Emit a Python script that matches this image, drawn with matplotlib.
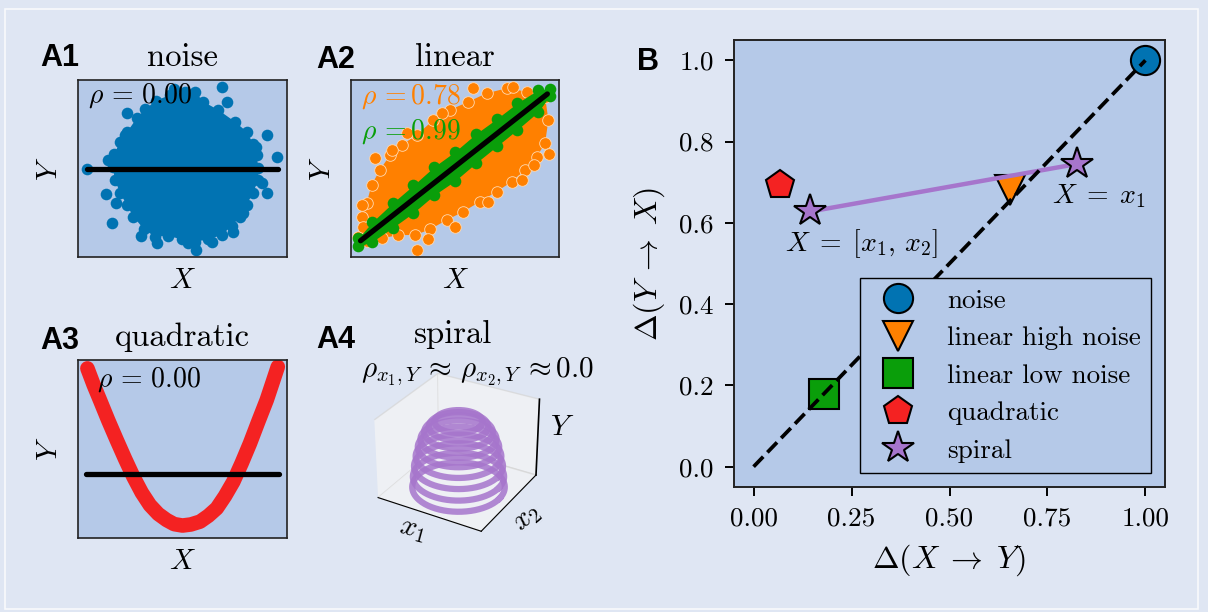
import numpy as np
import matplotlib.pyplot as plt
from matplotlib.patches import Rectangle

# ---- colours
bg = '#dfe6f3'
panel = '#b5c9e8'
c_blue = '#0173b2'
c_orange = '#ff8000'
c_green = '#0a9e0a'
c_red = '#f42222'
c_purple = '#a675cc'

plt.rcParams['font.family'] = 'serif'
plt.rcParams['font.serif'] = ['cmr10']
plt.rcParams['mathtext.fontset'] = 'cm'
plt.rcParams['axes.formatter.use_mathtext'] = True

# ---- A1 noise cloud (axes percent), outline of the dense core + stray points
noise_edge_x = [51.2, 56.0, 60.0, 67.1, 75.1, 80.7, 83.9, 85.5, 86.3, 86.3, 83.6, 80.7, 77.5, 73.5,
                68.8, 62.4, 56.0, 49.6, 43.2, 36.8, 31.6, 26.5, 23.3, 20.1, 17.7, 16.6, 17.4, 20.1,
                23.6, 28.1, 32.1, 37.3, 44.0]
noise_edge_y = [93.4, 93.4, 87.7, 83.1, 76.4, 70.8, 63.8, 57.6, 50.1, 43.5, 36.0, 29.4, 22.8, 17.5,
                12.4, 10.0, 8.6, 10.0, 11.9, 11.5, 15.6, 22.8, 29.4, 36.3, 43.5, 51.0, 58.2, 65.1,
                70.8, 78.4, 83.4, 88.3, 91.5]
noise_out_x = [4.2, 95.4, 90.3, 90.3, 13.4, 16.1, 18.2, 68.8, 71.1, 56.5, 52.8, 37.7, 23.3, 22.5,
               79.1, 88.0, 85.0, 64.0, 30.0, 14.5, 46.0, 74.0]
noise_out_y = [49.5, 56.3, 68.9, 36.3, 35.6, 19.0, 30.3, 95.9, 87.7, 4.0, 7.7, 8.1, 81.2, 68.9,
               24.7, 42.0, 62.0, 8.5, 12.0, 55.0, 95.0, 14.0]
noise_fit_x = [4.2, 95.8]
noise_fit_y = [49.5, 49.5]

# ---- A2 linear, high noise (orange) and low noise (green)
hi_edge_x = [3.5, 5.1, 7.5, 9.9, 13.9, 18.8, 24.4, 31.6, 39.6, 47.6, 56.4, 65.2, 74.8, 84.5, 93.3,
             94.9, 93.3, 89.3, 83.7, 77.2, 70.0, 62.0, 54.0, 46.0, 38.0, 30.8, 22.8, 14.7, 7.5]
hi_edge_y = [11.5, 22.8, 30.3, 40.7, 49.2, 57.6, 63.3, 68.9, 77.4, 83.1, 87.7, 92.5, 95.3, 93.4, 90.6,
             77.4, 64.2, 56.7, 49.2, 42.5, 36.9, 31.3, 25.6, 20.9, 15.6, 12.4, 12.4, 10.5, 9.2]
hi_out_x = [11.5, 31.6, 37.2, 82.1, 95.3, 58.8, 78.0, 5.1, 5.9, 19.6, 43.6, 27.0, 50.0, 88.0, 66.0]
hi_out_y = [55.8, 4.0, 10.0, 43.5, 58.2, 95.3, 96.2, 29.4, 17.1, 60.5, 81.2, 70.0, 17.0, 52.0, 31.0]
lo_x = [3.5, 10, 20, 30, 40, 50, 60, 70, 80, 90, 95.5]
lo_upper = [10.5, 19.5, 30.5, 40.5, 51.0, 59.5, 69.5, 78.0, 87.0, 94.5, 95.0]
lo_lower = [6.0, 8.5, 16.5, 25.0, 35.0, 43.0, 53.0, 62.5, 72.0, 82.0, 91.0]
lin_fit_x = [4.6, 94.4]
lin_fit_y = [9.2, 92.1]

# ---- A3 quadratic
quad_x = [4.5, 7.5, 10.5, 14.5, 18.5, 22.5, 26.5, 30.5, 34.4, 38.4, 42.4, 46.0, 50.0, 54.0,
          58.4, 62.4, 66.4, 70.3, 74.3, 78.3, 82.3, 86.3, 90.3, 93.0, 95.6]
quad_y = [95.3, 86.0, 77.5, 66.0, 55.1, 44.5, 34.4, 25.5, 18.5, 13.5, 10.1, 7.8, 7.0, 7.6,
          9.2, 12.5, 16.7, 23.5, 31.6, 42.0, 53.2, 65.5, 77.5, 87.0, 96.2]
quad_fit_x = [3.8, 96.3]
quad_fit_y = [35.8, 35.8]

# ---- A4 spiral turns (height, radius)
spiral_z = [0.0, 0.14, 0.28, 0.41, 0.53, 0.63, 0.72, 0.79, 0.85]
spiral_r = [1.0, 0.98, 0.95, 0.91, 0.86, 0.80, 0.72, 0.62, 0.50]

# ---- B
names = ['noise', 'linear high noise', 'linear low noise', 'quadratic']
markers = ['o', 'v', 's', 'p']
colors = [c_blue, c_orange, c_green, c_red]
d_xy = [1.00, 0.654, 0.18, 0.067]
d_yx = [1.00, 0.681, 0.18, 0.692]
spiral_xy = [0.145, 0.826]
spiral_yx = [0.628, 0.745]
spiral_txt = [r'$X\;=\;[x_1,\,x_2]$', r'$X\;=\;x_1$']
spiral_off = [(37, -23), (16, -23)]

W, H = 1208, 612


def fx(x):
    return x / W


def fy(y):
    return 1 - y / H


fig = plt.figure(figsize=(W / 100, H / 100), dpi=100, facecolor=bg)
fig.patches.append(Rectangle((fx(5), fy(609)), fx(1193), 600 / H, transform=fig.transFigure,
                             fill=False, ec='white', lw=1.2, alpha=0.8))


def small_axes(rect, title, xlab_y, ylab_x):
    ax = fig.add_axes(rect)
    ax.set_facecolor(panel)
    ax.set_xlim(0, 100)
    ax.set_ylim(0, 100)
    ax.set_xticks([])
    ax.set_yticks([])
    for s in ax.spines.values():
        s.set_color('#222222')
        s.set_linewidth(1.2)
    ax.set_title(title, fontsize=23.5, pad=10)
    ax.set_xlabel('$X$', fontsize=21)
    ax.set_ylabel('$Y$', fontsize=21)
    ax.xaxis.set_label_coords(0.5, xlab_y)
    ax.yaxis.set_label_coords(ylab_x, 0.5)
    return ax


# A1
ax1 = small_axes([fx(78), fy(257), 209 / W, 177 / H], 'noise', -0.06, -0.07)
ax1.fill(noise_edge_x, noise_edge_y, color=c_blue, lw=0, zorder=2)
ax1.scatter(noise_edge_x + noise_out_x, noise_edge_y + noise_out_y, s=70, color=c_blue, lw=0, zorder=2)
ax1.plot(noise_fit_x, noise_fit_y, color='black', lw=3.8, solid_capstyle='round', zorder=3)
ax1.text(5, 91, r'$\rho\,=\,0.00$', fontsize=20, va='center', zorder=5)

# A2
ax2 = small_axes([fx(351), fy(257), 208 / W, 177 / H], 'linear', -0.06, -0.07)
ax2.fill(hi_edge_x, hi_edge_y, color=c_orange, lw=0, zorder=2)
ax2.scatter(hi_edge_x + hi_out_x, hi_edge_y + hi_out_y, s=70, color=c_orange,
            edgecolors='#ffd9b0', linewidths=0.6, zorder=2)
ax2.fill_between(lo_x, lo_lower, lo_upper, color=c_green, lw=0, zorder=3)
ax2.scatter(lo_x + lo_x, lo_upper + lo_lower, s=70, color=c_green, lw=0, zorder=3)
ax2.plot(lin_fit_x, lin_fit_y, color='black', lw=3.8, solid_capstyle='round', zorder=4)
ax2.text(5, 90.6, r'$\rho\,=$0.78', fontsize=20, va='center', color=c_orange, zorder=5)
ax2.text(5, 70.8, r'$\rho\,=$0.99', fontsize=20, va='center', color=c_green, zorder=5)

# A3
ax3 = small_axes([fx(78), fy(538), 209 / W, 178 / H], 'quadratic', -0.06, -0.07)
ax3.plot(quad_x, quad_y, color=c_red, lw=10.5, solid_capstyle='round', solid_joinstyle='round',
         zorder=2)
ax3.plot(quad_fit_x, quad_fit_y, color='black', lw=3.8, solid_capstyle='round', zorder=3)
ax3.text(9, 88.8, r'$\rho\,=\,0.00$', fontsize=20, va='center', zorder=5)

# A4 spiral in 3d
ax4 = fig.add_axes([0.2925, 0.113, 0.17, 0.30], projection='3d')
ax4.patch.set_alpha(0)
ax4.set_facecolor('none')
theta = np.linspace(0, 2 * np.pi, 200)
for z, r in zip(spiral_z, spiral_r):
    ax4.plot(r * np.cos(theta), r * np.sin(theta), np.full_like(theta, z),
             color=c_purple, lw=4.5, alpha=0.85)
ax4.set_xlim(-1.25, 1.25)
ax4.set_ylim(-1.25, 1.25)
ax4.set_zlim(0, 1)
ax4.set_xticks([])
ax4.set_yticks([])
ax4.set_zticks([])
ax4.grid(False)
for a in (ax4.xaxis, ax4.yaxis, ax4.zaxis):
    a.set_pane_color((0.96, 0.96, 0.96, 0.7))
    a.pane.set_edgecolor('#d5d5d5')
ax4.zaxis.line.set_color((0, 0, 0, 0))
ax4.plot([1.25, 1.25], [1.25, 1.25], [0, 1], color='black', lw=1.2)
fig.text(fx(413), fy(530), '$x_1$', fontsize=21, ha='center', va='center', rotation=-15)
fig.text(fx(527), fy(518), '$x_2$', fontsize=21, ha='center', va='center', rotation=40)
fig.text(fx(562), fy(428), '$Y$', fontsize=21, ha='center', va='center')
fig.text(fx(453), fy(334), 'spiral', fontsize=23.5, ha='center', va='center')
fig.text(fx(477), fy(372), r'$\rho_{x_1,Y}\,\approx\,\rho_{x_2,Y}\,\approx$0.0', fontsize=21,
         ha='center', va='center')

# B
axb = fig.add_axes([fx(734), fy(487), 431 / W, 447 / H])
axb.set_facecolor(panel)
for s in axb.spines.values():
    s.set_color('#222222')
    s.set_linewidth(1.4)
for name, m, c, x, y in zip(names, markers, colors, d_xy, d_yx):
    axb.plot(x, y, marker=m, ms=21, color=c, mec='black', mew=1.5, ls='none', label=name, zorder=3)
axb.plot(spiral_xy, spiral_yx, color=c_purple, lw=3.2, zorder=4)
axb.plot(spiral_xy, spiral_yx, marker='*', ms=24, color=c_purple, mec='black', mew=1.5,
         ls='none', label='spiral', zorder=6)
axb.plot([0, 1], [0, 1], ls='--', color='black', lw=2.7, zorder=5)
for x, y, t, off in zip(spiral_xy, spiral_yx, spiral_txt, spiral_off):
    axb.annotate(t, (x, y), xytext=off, textcoords='offset points', fontsize=20,
                 ha='center', va='center')
axb.set_xticks([0, 0.25, 0.5, 0.75, 1.0])
axb.set_xticklabels(['0.00', '0.25', '0.50', '0.75', '1.00'])
axb.set_yticks([0, 0.2, 0.4, 0.6, 0.8, 1.0])
axb.set_yticklabels(['0.0', '0.2', '0.4', '0.6', '0.8', '1.0'])
axb.tick_params(labelsize=19.5, length=6.5, width=1.4, pad=8, direction='out')
axb.set_xlabel(r'$\Delta(X\;\rightarrow\;Y)$', fontsize=23)
axb.set_ylabel(r'$\Delta(Y\;\rightarrow\;X)$', fontsize=23)
axb.xaxis.set_label_coords(0.5, -0.125)
axb.yaxis.set_label_coords(-0.155, 0.5)
leg = axb.legend(loc='lower right', fontsize=19.5, fancybox=False, framealpha=1,
                 facecolor=panel, edgecolor='black')
leg.get_frame().set_linewidth(1.0)
leg.set_zorder(10)

for t, x, y in [('A1', 40, 58), ('A2', 316, 60), ('A3', 40, 341), ('A4', 316, 340), ('B', 637, 62)]:
    fig.text(fx(x), fy(y), t, fontsize=22, fontweight='bold', family='Liberation Sans',
             ha='left', va='center')

fig.savefig('out.png', dpi=100, facecolor=bg)
